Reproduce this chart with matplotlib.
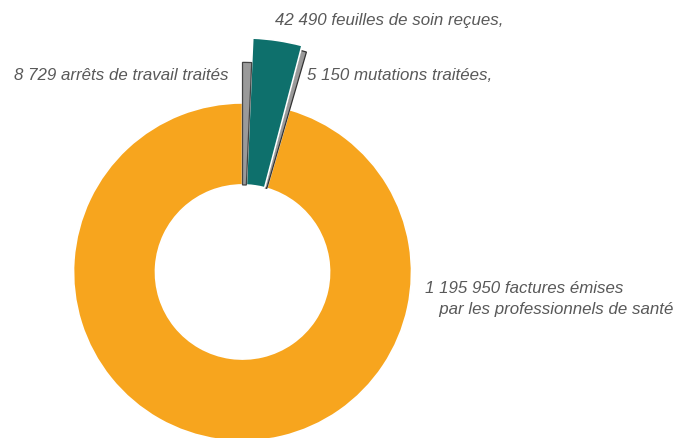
import matplotlib
matplotlib.use('Agg')
import matplotlib.pyplot as plt

# données
labels = ['1 195 950 factures émises\n   par les professionnels de santé',
          '5 150 mutations traitées,',
          '42 490 feuilles de soin reçues,',
          '8 729 arrêts de travail traités']
values = [1195950, 5150, 42490, 8729]
colors = ['#F7A51E', '#9a9a9a', '#0E706C', '#9a9a9a']
edges = ['white', '#333333', 'white', '#444444']
radii = [1.0, 1.355, 1.385, 1.24]

plt.rcParams['font.family'] = ['Liberation Sans Narrow', 'Liberation Sans', 'DejaVu Sans']

fig = plt.figure(figsize=(6.75, 4.38), dpi=100)
ax = fig.add_axes([0, 0, 1, 1])

inner = 0.515
wedges, _ = ax.pie(values, colors=colors, startangle=90, counterclock=True,
                   radius=1.0, wedgeprops=dict(width=1 - inner, linewidth=1.2))
for w, ec, r in zip(wedges, edges, radii):
    w.set_radius(r)
    w.set_width(r - inner)
    w.set_edgecolor(ec)
    if ec != 'white':
        w.set_linewidth(0.9)

ax.set_xlim(-1.435, 2.559)
ax.set_ylim(-0.982, 1.609)
ax.set_aspect('auto')
ax.axis('off')

txt = dict(color='#595959', style='italic', fontsize=12.2)
# positions des étiquettes en pixels -> coordonnées de l'axe
ax.text(425 / 675, 1 - 299 / 438, labels[0], transform=ax.transAxes,
        ha='left', va='center', linespacing=1.45, **txt)
ax.text(307 / 675, 1 - 75 / 438, labels[1], transform=ax.transAxes,
        ha='left', va='center', **txt)
ax.text(275 / 675, 1 - 21 / 438, labels[2], transform=ax.transAxes,
        ha='left', va='center', **txt)
ax.text(228 / 675, 1 - 75 / 438, labels[3], transform=ax.transAxes,
        ha='right', va='center', **txt)

fig.savefig('out.png', dpi=100)
